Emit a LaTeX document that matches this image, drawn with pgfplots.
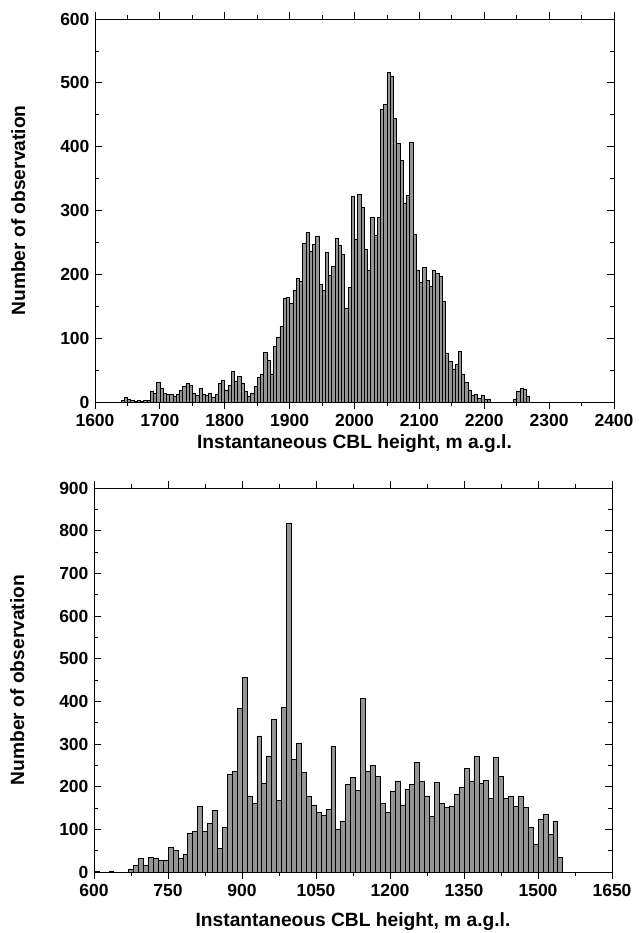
\documentclass[border=0pt]{standalone}
\usepackage{fontspec}
\setmainfont{Liberation Sans}
\usepackage{pgfplots}
\usepackage{pgfplotstable}
\pgfplotsset{compat=1.18}
\definecolor{barfill}{HTML}{959595}

\pgfplotstableread{
x y
1642.5 2
1647.5 7
1652.5 4
1657.5 2
1662.5 1
1667.5 3
1672.5 1
1677.5 2
1682.5 2
1687.5 16
1692.5 14
1697.5 31
1702.5 21
1707.5 14
1712.5 12
1717.5 12
1722.5 9
1727.5 12
1732.5 18
1737.5 24
1742.5 30
1747.5 26
1752.5 14
1757.5 10
1762.5 22
1767.5 12
1772.5 10
1777.5 14
1782.5 7
1787.5 12
1792.5 29
1797.5 34
1802.5 19
1807.5 26
1812.5 48
1817.5 32
1822.5 40
1827.5 30
1832.5 17
1837.5 9
1842.5 14
1847.5 24
1852.5 38
1857.5 44
1862.5 78
1867.5 66
1872.5 44
1877.5 87
1882.5 102
1887.5 119
1892.5 163
1897.5 164
1902.5 154
1907.5 175
1912.5 194
1917.5 189
1922.5 248
1927.5 266
1932.5 236
1937.5 247
1942.5 260
1947.5 184
1952.5 175
1957.5 235
1962.5 198
1967.5 212
1972.5 257
1977.5 245
1982.5 231
1987.5 147
1992.5 179
1997.5 322
2002.5 255
2007.5 325
2012.5 305
2017.5 239
2022.5 207
2027.5 289
2032.5 261
2037.5 290
2042.5 459
2047.5 466
2052.5 516
2057.5 510
2062.5 444
2067.5 405
2072.5 379
2077.5 312
2082.5 324
2087.5 407
2092.5 262
2097.5 207
2102.5 187
2107.5 211
2112.5 191
2117.5 182
2122.5 207
2127.5 201
2132.5 197
2137.5 158
2142.5 77
2147.5 63
2152.5 52
2157.5 59
2162.5 80
2167.5 44
2172.5 31
2177.5 19
2182.5 11
2187.5 12
2192.5 6
2197.5 11
2202.5 5
2207.5 5
2247.5 5
2252.5 17
2257.5 21
2262.5 20
2267.5 9
}\topdata

\pgfplotstableread{
x y
605 1
635 2
675 7
685 16
695 31
705 16
715 34
725 32
735 28
745 28
755 57
765 52
775 32
785 41
795 91
805 95
815 153
825 95
835 115
845 145
855 56
865 105
875 228
885 236
895 384
905 456
915 178
925 161
935 319
945 208
955 272
965 359
975 167
985 386
995 817
1005 263
1015 302
1025 233
1035 177
1045 156
1055 139
1065 133
1075 146
1085 294
1095 101
1105 120
1115 206
1125 221
1135 192
1145 406
1155 236
1165 250
1175 225
1185 160
1195 139
1205 190
1215 212
1225 157
1235 194
1245 206
1255 257
1265 212
1275 177
1285 130
1295 210
1305 161
1315 152
1325 155
1335 183
1345 198
1355 243
1365 212
1375 271
1385 208
1395 214
1405 172
1415 268
1425 224
1435 172
1445 178
1455 155
1465 178
1475 151
1485 104
1495 66
1505 124
1515 136
1525 88
1535 120
1545 34
}\botdata

\pgfplotsset{
  myhist/.style={
    scale only axis,
    anchor=south west,
    ymin=0,
    tick align=inside,
    major tick length=7pt,
    minor tick length=4pt,
    axis line style={line width=1pt},
    every tick/.style={black, line width=0.8pt},
    /pgf/number format/assume math mode=true,
    /pgf/number format/1000 sep={},
    tick label style={font=\bfseries\fontsize{17.5}{20}\selectfont},
    label style={font=\bfseries\fontsize{19.2}{22}\selectfont},
    ylabel={Number of observation},
    xlabel={Instantaneous CBL height, m a.g.l.},
    ylabel style={at={(axis description cs:-0.148,0.5)}, anchor=center},
    yticklabel style={xshift=-2pt},
    minor x tick num=1,
    minor y tick num=1,
    ybar,
    bar shift=0pt,
    ytick={0,100,...,900},
  },
  mybar/.style={fill=barfill, draw=black, line width=0.6pt},
}

\begin{document}
\begin{tikzpicture}
\path[use as bounding box] (0,0) rectangle (638pt,-933pt);

\begin{axis}[myhist,
  at={(95pt,-402pt)},
  width=519pt, height=383pt,
  xmin=1600, xmax=2400, ymax=600,
  xtick={1600,1700,...,2400},
  bar width=5,
  xticklabel style={yshift=-1.5pt},
  xlabel style={at={(axis description cs:0.5,-0.108)}, anchor=center},
]
\addplot[mybar] table[x=x,y=y] {\topdata};
\end{axis}

\begin{axis}[myhist,
  at={(94pt,-872pt)},
  width=518pt, height=384pt,
  xmin=600, xmax=1650, ymax=900,
  xtick={600,750,...,1650},
  bar width=10,
  xticklabel style={yshift=-2pt},
  xlabel style={at={(axis description cs:0.5,-0.128)}, anchor=center},
]
\addplot[mybar] table[x=x,y=y] {\botdata};
\end{axis}
\end{tikzpicture}
\end{document}
